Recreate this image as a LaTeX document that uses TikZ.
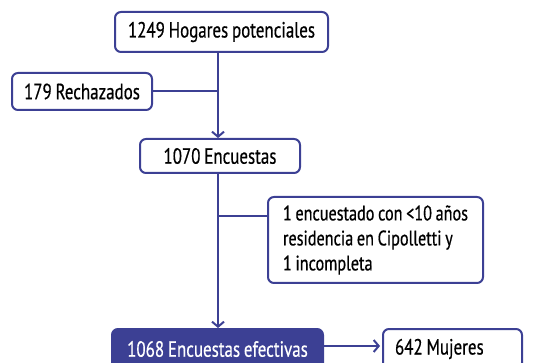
\documentclass[tikz,border=0pt]{standalone}
\usepackage{fontspec}
\setmainfont[FakeStretch=0.77,WordSpace=0.85,FakeBold=0.5]{PT Sans}
\usetikzlibrary{arrows.meta}
\definecolor{fblue}{RGB}{60,64,148}
\tikzset{
  box/.style={draw=fblue, line width=2pt, rounded corners=6pt, fill=white, inner sep=0pt, font=\fontsize{22}{25}\selectfont, text=black},
  conn/.style={draw=fblue, line width=2pt},
  arr/.style={conn, -{Straight Barb[length=5pt,width=12pt,line width=2pt]}}
}
\begin{document}
\begin{tikzpicture}[x=1pt,y=-1pt]
\useasboundingbox (0,0) rectangle (554,363);
\clip (0,0) rectangle (554,363);
\node[box, minimum width=213pt, minimum height=40pt] (top) at (221.5,32) {1249 Hogares potenciales};
\node[box, minimum width=140pt, minimum height=37pt] (rech) at (82,91.5) {179 Rechazados};
\node[box, minimum width=160pt, minimum height=34pt] (enc) at (220,156) {1070 Encuestas};
\node[box, minimum width=215pt, minimum height=86pt, inner xsep=9pt, align=left, font=\fontsize{21}{25}\selectfont] (excl) at (375.5,240) {1 encuestado con <10 años\\residencia en Cipolletti y\\1 incompleta};
\node[box, fill=fblue, text=white, minimum width=211pt, minimum height=40pt] (eff) at (217.5,349) {1068 Encuestas efectivas};
\node[box, minimum height=40pt, inner xsep=12pt, text width=115pt, align=flush left] (muj) at (452.5,349) {642 Mujeres};
\coordinate (j1) at (218,91);
\coordinate (j2) at (218,216);
\coordinate (j3) at (0,346);
\draw[arr] (top.south -| j1) -- (enc.north -| j1);
\draw[conn] (rech.east |- j1) -- (j1);
\draw[arr] (enc.south -| j2) -- (eff.north -| j2);
\draw[conn] (j2) -- (j2 -| excl.west);
\draw[arr] (eff.east |- j3) -- ([xshift=-2pt]muj.west |- j3);
\end{tikzpicture}
\end{document}
